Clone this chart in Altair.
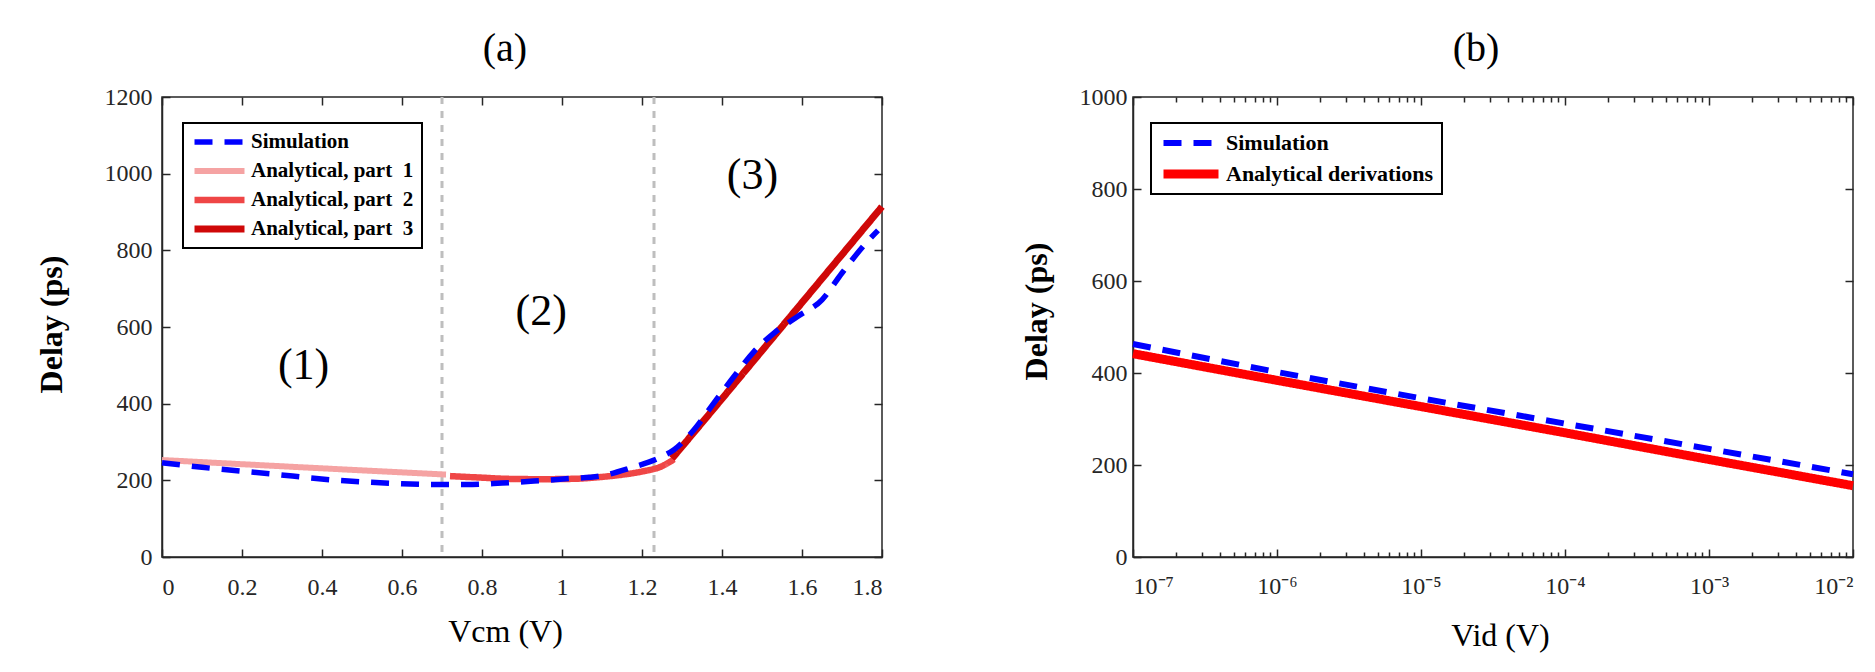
import altair as alt
import pandas as pd

FONT = "Liberation Serif"
INK = "#262626"

# ---------------- panel (a): delay vs. common-mode voltage ----------------
sim_a_vcm = [0.00, 0.10, 0.27, 0.44, 0.52, 0.60, 0.69, 0.76, 0.85, 0.93, 1.01, 1.10,
             1.17, 1.25, 1.28, 1.33, 1.38, 1.43, 1.48, 1.53, 1.59, 1.65, 1.70, 1.76, 1.79]
sim_a_delay = [246, 234, 217, 200, 195, 191, 189, 189, 193, 198, 204, 212,
               232, 262, 280, 332, 402, 471, 536, 584, 628, 671, 741, 819, 852]

part1_vcm = [0.00, 0.35, 0.71]
part1_delay = [253, 234, 215]
part2_vcm = [0.72, 0.80, 0.86, 0.95, 1.03, 1.11, 1.16, 1.20, 1.25, 1.28]
part2_delay = [211, 207, 204, 203, 204, 210, 216, 223, 237, 255]
part3_vcm = [1.275, 1.30, 1.55, 1.80]
part3_delay = [257, 288, 601, 914]

region_vcm = [0.354, 0.948, 1.476]
region_delay = [498, 640, 993]
region_text = ["(1)", "(2)", "(3)"]
boundary_vcm = [0.70, 1.23]

names_a = ["Simulation", "Analytical, part\u00a0 1", "Analytical, part\u00a0 2", "Analytical, part\u00a0 3"]
colors_a = ["#0000FF", "#F5A3A3", "#EF4646", "#CF0808"]
dash_a = [[18, 12], [1, 0], [1, 0], [1, 0]]
width_a = [5.5, 7, 7, 7]

xticks_a = [0, 0.2, 0.4, 0.6, 0.8, 1, 1.2, 1.4, 1.6, 1.8]
yticks_a = [0, 200, 400, 600, 800, 1000, 1200]

# ---------------- panel (b): delay vs. differential input ----------------
vid = [1e-7, 1e-6, 1e-5, 1e-4, 1e-3, 1e-2]
sim_b_delay = [463, 402, 345, 290, 235, 180]
ana_b_delay = [442, 384, 327, 270, 212, 155]

names_b = ["Simulation", "Analytical derivations"]
colors_b = ["#0000FF", "#FF0000"]
dash_b = [[18, 12], [1, 0]]
width_b = [6, 9]

xticks_b = [1e-7, 1e-6, 1e-5, 1e-4, 1e-3, 1e-2]
xlabels_b = ["10\u207b\u2077", "10\u207b\u2076", "10\u207b\u2075", "10\u207b\u2074", "10\u207b\u00b3", "10\u207b\u00b2"]
xminor_b = [m * 10.0 ** e for e in range(-7, -2) for m in range(2, 10)]
yticks_b = [0, 200, 400, 600, 800, 1000]

W, H = 720, 460


def frame_axis(orient, values, size=8, labels=False, domain=False, **kw):
    """Axis with inward-pointing ticks."""
    return alt.Axis(orient=orient, values=values, labels=labels, domain=domain,
                    ticks=True, tickSize=alt.ExprRef(expr=str(-size)), tickColor=INK,
                    tickWidth=1.5, grid=False, labelFont=FONT, labelFontSize=24,
                    labelColor=INK, titleFont=FONT, titleColor="black", **kw)


def legend(x, y, size, font_size, clip):
    return alt.Legend(title=None, orient="none", legendX=x, legendY=y, direction="vertical",
                      strokeColor="black", fillColor="white", padding=8,
                      symbolType="stroke", symbolSize=size, clipHeight=clip, rowPadding=7,
                      labelFont=FONT, labelFontSize=font_size, labelFontWeight="bold",
                      labelColor="black", labelOffset=3, labelLimit=0)


# ---- build panel (a) ----
rows = []
for v, d in zip(sim_a_vcm, sim_a_delay):
    rows.append({"vcm": v, "delay": d, "series": names_a[0]})
ana_rows = []
for name, vs, ds in [(names_a[1], part1_vcm, part1_delay),
                     (names_a[2], part2_vcm, part2_delay),
                     (names_a[3], part3_vcm, part3_delay)]:
    for v, d in zip(vs, ds):
        ana_rows.append({"vcm": v, "delay": d, "series": name})
sim_a = pd.DataFrame(rows)
ana_a = pd.DataFrame(ana_rows)
all_a = pd.concat([sim_a, ana_a])

xs_a = alt.Scale(domain=[0, 1.8], nice=False, zero=False)
ys_a = alt.Scale(domain=[0, 1200], nice=False)
leg_a = legend(21, 26, 2500, 21, 22)
enc_a = dict(
    color=alt.Color("series:N", scale=alt.Scale(domain=names_a, range=colors_a), legend=leg_a),
    strokeDash=alt.StrokeDash("series:N", scale=alt.Scale(domain=names_a, range=dash_a), legend=leg_a),
    strokeWidth=alt.StrokeWidth("series:N", scale=alt.Scale(domain=names_a, range=width_a), legend=leg_a),
)

bounds_a = alt.Chart(pd.DataFrame({"vcm": boundary_vcm})).mark_rule(
    color="#BEBEBE", strokeWidth=3, strokeDash=[7, 7]
).encode(x=alt.X("vcm:Q", scale=xs_a, axis=None))

main_x_a = frame_axis("bottom", xticks_a, labels=True, domain=True, format="~g",
                      domainColor=INK, domainWidth=1.5, labelPadding=26,
                      title="Vcm (V)", titleX=343, titleY=74, titleBaseline="middle",
                      titleFontWeight="normal", titleFontSize=32)
main_y_a = frame_axis("left", yticks_a, labels=True, domain=True, format="d",
                      domainColor=INK, domainWidth=1.5, labelPadding=18,
                      title="Delay (ps)", titleX=-111, titleY=227, titleAngle=270,
                      titleBaseline="middle", titleAlign="center",
                      titleFontWeight="bold", titleFontSize=32)

ana_layer_a = alt.Chart(ana_a).mark_line(interpolate="monotone").encode(
    x=alt.X("vcm:Q", scale=xs_a, axis=main_x_a),
    y=alt.Y("delay:Q", scale=ys_a, axis=main_y_a), **enc_a)
sim_layer_a = alt.Chart(sim_a).mark_line(interpolate="monotone").encode(
    x=alt.X("vcm:Q", scale=xs_a, axis=None),
    y=alt.Y("delay:Q", scale=ys_a, axis=None), **enc_a)
box_a = alt.Chart(all_a).mark_line(opacity=0).encode(
    x=alt.X("vcm:Q", scale=xs_a, axis=frame_axis("top", xticks_a, title=None)),
    y=alt.Y("delay:Q", scale=ys_a, axis=frame_axis("right", yticks_a, title=None)))
regions = alt.Chart(pd.DataFrame({"vcm": region_vcm, "delay": region_delay, "label": region_text})).mark_text(
    font=FONT, fontSize=44, color="black", align="center", baseline="middle"
).encode(x=alt.X("vcm:Q", scale=xs_a, axis=None),
         y=alt.Y("delay:Q", scale=ys_a, axis=None), text="label:N")

panel_a = alt.layer(bounds_a, ana_layer_a, sim_layer_a, box_a, regions).resolve_axis(
    x="independent", y="independent"
).properties(width=W, height=H, title=alt.TitleParams(
    "(a)", font=FONT, fontSize=40, fontWeight="normal", color="black",
    anchor="middle", baseline="middle", offset=0, dx=-17, dy=4))

# ---- build panel (b) ----
sim_b = pd.DataFrame({"vid": vid, "delay": sim_b_delay, "series": names_b[0]})
ana_b = pd.DataFrame({"vid": vid, "delay": ana_b_delay, "series": names_b[1]})
all_b = pd.concat([sim_b, ana_b])

xs_b = alt.Scale(type="log", domain=[1e-7, 1e-2], nice=False)
ys_b = alt.Scale(domain=[0, 1000], nice=False)
leg_b = legend(18, 26, 3025, 22, 24)
enc_b = dict(
    color=alt.Color("series:N", scale=alt.Scale(domain=names_b, range=colors_b), legend=leg_b),
    strokeDash=alt.StrokeDash("series:N", scale=alt.Scale(domain=names_b, range=dash_b), legend=leg_b),
    strokeWidth=alt.StrokeWidth("series:N", scale=alt.Scale(domain=names_b, range=width_b), legend=leg_b),
)

label_expr = ""
for val, lab in zip(xticks_b[:-1], xlabels_b[:-1]):
    label_expr += f"datum.value < {val * 3:g} ? '{lab}' : "
label_expr += f"'{xlabels_b[-1]}'"

main_x_b = frame_axis("bottom", xticks_b, labels=True, domain=True, labelExpr=label_expr,
                      domainColor=INK, domainWidth=1.5, labelPadding=25,
                      title="Vid (V)", titleX=367, titleY=78, titleBaseline="middle",
                      titleFontWeight="normal", titleFontSize=32)
main_y_b = frame_axis("left", yticks_b, labels=True, domain=True, format="d",
                      domainColor=INK, domainWidth=1.5, labelPadding=14,
                      title="Delay (ps)", titleX=-97, titleY=214, titleAngle=270,
                      titleBaseline="middle", titleAlign="center",
                      titleFontWeight="bold", titleFontSize=32)

ana_layer_b = alt.Chart(ana_b).mark_line().encode(
    x=alt.X("vid:Q", scale=xs_b, axis=main_x_b),
    y=alt.Y("delay:Q", scale=ys_b, axis=main_y_b), **enc_b)
sim_layer_b = alt.Chart(sim_b).mark_line().encode(
    x=alt.X("vid:Q", scale=xs_b, axis=None),
    y=alt.Y("delay:Q", scale=ys_b, axis=None), **enc_b)
minor_bottom = alt.Chart(all_b).mark_line(opacity=0).encode(
    x=alt.X("vid:Q", scale=xs_b, axis=frame_axis("bottom", xminor_b, size=5, title=None)),
    y=alt.Y("delay:Q", scale=ys_b, axis=frame_axis("right", yticks_b, title=None)))
top_major = alt.Chart(all_b).mark_line(opacity=0).encode(
    x=alt.X("vid:Q", scale=xs_b, axis=frame_axis("top", xticks_b, title=None)),
    y=alt.Y("delay:Q", scale=ys_b, axis=None))
top_minor = alt.Chart(all_b).mark_line(opacity=0).encode(
    x=alt.X("vid:Q", scale=xs_b, axis=frame_axis("top", xminor_b, size=5, title=None)),
    y=alt.Y("delay:Q", scale=ys_b, axis=None))

panel_b = alt.layer(ana_layer_b, sim_layer_b, minor_bottom, top_major, top_minor).resolve_axis(
    x="independent", y="independent"
).properties(width=W, height=H, title=alt.TitleParams(
    "(b)", font=FONT, fontSize=40, fontWeight="normal", color="black",
    anchor="middle", baseline="middle", offset=0, dx=-17, dy=4))

chart = alt.hconcat(panel_a, panel_b, spacing=251, bounds="flush").resolve_scale(
    color="independent", strokeDash="independent", strokeWidth="independent"
).resolve_legend(
    color="independent", strokeDash="independent", strokeWidth="independent"
).properties(
    autosize=alt.AutoSizeParams(type="none"),
    padding={"left": 162, "top": 97, "right": 1875 - 162, "bottom": 672 - 97},
    background="white",
).configure_view(
    stroke=INK, strokeWidth=1.5
).configure_legend(
    strokeWidth=2
)

chart.save("out.html", embed_options={"renderer": "svg", "actions": False})
